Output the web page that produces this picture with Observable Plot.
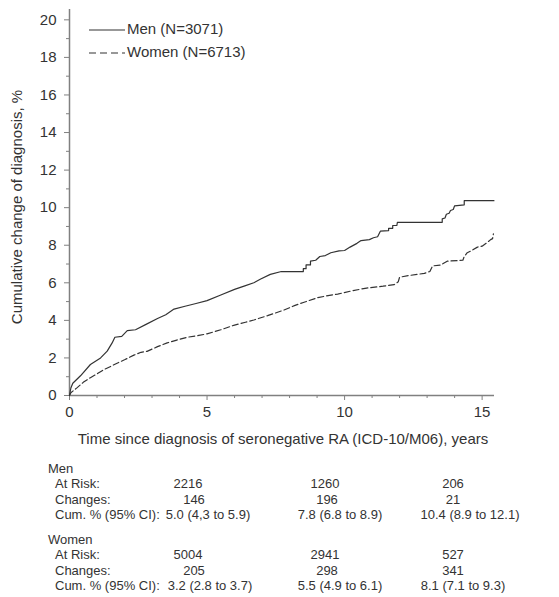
<!DOCTYPE html>
<html>
<head>
<meta charset="utf-8">
<script src="https://cdn.jsdelivr.net/npm/d3@7"></script>
<script src="https://cdn.jsdelivr.net/npm/@observablehq/plot@0.6"></script>
<style>
  html, body { margin: 0; padding: 0; background: #fff; }
  #wrap { position: relative; width: 559px; height: 597px; font-family: Arial, "Liberation Sans", sans-serif; color: #333; }
  #table { position: absolute; left: 0; top: 0; width: 559px; height: 597px; font-size: 13px; pointer-events: none; }
  #table span { position: absolute; white-space: nowrap; transform: translateY(-50%); }
  #table span.c { transform: translate(-50%, -50%); }
</style>
</head>
<body>
<div id="wrap">
  <div id="chart"></div>
  <div id="table"></div>
</div>
<script>
// Men (solid) cumulative curve: time (years), cumulative %
const menTime = [0,0.05,0.12,0.4,0.76,1.13,1.37,1.55,1.65,1.9,2.1,2.4,2.8,3.2,3.5,3.8,4.2,4.6,5.0,5.5,6.0,6.4,6.7,6.95,7.3,7.7,8.5,8.5,8.6,8.6,8.76,8.76,8.95,9.1,9.3,9.5,9.8,10.0,10.2,10.45,10.6,10.9,11.05,11.2,11.3,11.6,11.6,11.75,11.75,11.9,11.92,13.55,13.55,13.65,13.7,13.8,13.85,13.95,14.0,14.35,14.35,15.43];
const menCum  = [0,0.4,0.65,1.05,1.65,2.0,2.36,2.8,3.1,3.15,3.45,3.5,3.8,4.1,4.3,4.6,4.75,4.9,5.05,5.35,5.65,5.85,6.0,6.2,6.45,6.6,6.6,6.75,6.75,6.95,6.95,7.15,7.2,7.4,7.45,7.6,7.7,7.72,7.9,8.1,8.25,8.3,8.4,8.45,8.75,8.78,8.9,8.9,9.05,9.05,9.22,9.22,9.4,9.45,9.65,9.7,9.85,9.9,10.1,10.15,10.37,10.37];
// Women (dashed)
const womenTime = [0,0.05,0.28,0.5,0.76,1.0,1.25,1.5,1.73,2.0,2.34,2.6,2.82,3.2,3.55,3.9,4.28,4.7,5.0,5.5,6.0,6.4,6.7,7.2,7.8,8.2,8.5,9.0,9.4,9.75,10.2,10.8,11.4,11.8,11.95,12.0,12.4,12.9,13.1,13.2,13.5,13.73,14.3,14.35,14.46,14.6,14.83,15.0,15.19,15.31,15.38,15.41];
const womenCum  = [0,0.15,0.42,0.7,0.95,1.15,1.38,1.55,1.72,1.9,2.15,2.3,2.35,2.6,2.8,2.95,3.1,3.2,3.28,3.5,3.75,3.9,4.02,4.25,4.55,4.8,4.95,5.2,5.32,5.4,5.55,5.72,5.82,5.9,6.05,6.3,6.4,6.5,6.6,6.9,6.95,7.15,7.2,7.4,7.6,7.7,7.9,7.95,8.15,8.3,8.35,8.6];

const seriesNames = ["Men (N=3071)", "Women (N=6713)"];
const yMajorTicks = [0,2,4,6,8,10,12,14,16,18,20];
const yMinorTicks = [1,3,5,7,9,11,13,15,17,19];
const xMajorTicks = [0,5,10,15];
const xMinorTicks = [1,2,3,4,6,7,8,9,11,12,13,14];

// Risk table
const groups = ["Men", "Women"];
const rowLabels = ["At Risk:", "Changes:", "Cum. % (95% CI):"];
const menAtRisk = ["2216", "1260", "206"];
const menChanges = ["146", "196", "21"];
const menCumCI = ["5.0 (4,3 to 5.9)", "7.8 (6.8 to 8.9)", "10.4 (8.9 to 12.1)"];
const womenAtRisk = ["5004", "2941", "527"];
const womenChanges = ["205", "298", "341"];
const womenCumCI = ["3.2 (2.8 to 3.7)", "5.5 (4.9 to 6.1)", "8.1 (7.1 to 9.3)"];

const men = menTime.map((t, i) => ({t, v: menCum[i]}));
const women = womenTime.map((t, i) => ({t, v: womenCum[i]}));

const lineColor = "#333";
const axisColor = "#808080";

const plot = Plot.plot({
  width: 559,
  height: 450,
  marginLeft: 69,
  marginRight: 65,
  marginTop: 9,
  marginBottom: 55,
  style: {fontFamily: "Arial, 'Liberation Sans', sans-serif", fontSize: "15px", color: "#333", background: "#fff"},
  x: {domain: [0, 15.45]},
  y: {domain: [0, 20.55]},
  marks: [
    Plot.axisY({ticks: yMajorTicks, tickSize: 5, tickPadding: 8, stroke: axisColor, label: null, fill: "#333"}),
    Plot.axisY({ticks: yMinorTicks, tickSize: 3, tickFormat: () => "", stroke: axisColor, label: null}),
    Plot.axisX({ticks: xMajorTicks, tickSize: 5, tickPadding: 6, stroke: axisColor, label: null, fill: "#333"}),
    Plot.axisX({ticks: xMinorTicks, tickSize: 3, tickFormat: () => "", stroke: axisColor, label: null}),
    Plot.ruleX([0], {stroke: axisColor, strokeWidth: 1.5}),
    Plot.ruleY([0], {stroke: axisColor, strokeWidth: 1.5}),
    Plot.line(women, {x: "t", y: "v", curve: "linear", stroke: lineColor, strokeWidth: 1.2, strokeDasharray: "6,3"}),
    Plot.line(men, {x: "t", y: "v", curve: "linear", stroke: lineColor, strokeWidth: 1.2})
  ]
});
document.getElementById("chart").appendChild(plot);

// Axis titles and legend
const svg = d3.select(plot);
svg.append("text")
  .attr("transform", "translate(18,207) rotate(-90)")
  .attr("text-anchor", "middle").attr("dominant-baseline", "middle")
  .attr("fill", "#333").style("font-size", "15px")
  .text("Cumulative change of diagnosis, %");
svg.append("text")
  .attr("x", 283).attr("y", 440)
  .attr("text-anchor", "middle").attr("dominant-baseline", "middle")
  .attr("fill", "#333").style("font-size", "15px")
  .text("Time since diagnosis of seronegative RA (ICD-10/M06), years");

const legend = svg.append("g");
seriesNames.forEach((name, i) => {
  const y = 30 + i * 23;
  legend.append("line").attr("x1", 89).attr("x2", 125).attr("y1", y).attr("y2", y)
    .attr("stroke", lineColor).attr("stroke-width", 1.1)
    .attr("stroke-dasharray", i === 1 ? "7,4" : null);
  legend.append("text").attr("x", 127).attr("y", y)
    .attr("text-anchor", "start").attr("dominant-baseline", "middle")
    .attr("fill", "#333").style("font-size", "15px").text(name);
});

// Risk table (HTML text)
const table = document.getElementById("table");
function addSpan(text, x, y, centered) {
  const s = document.createElement("span");
  s.textContent = text;
  s.style.left = x + "px";
  s.style.top = y + "px";
  if (centered) s.className = "c";
  table.appendChild(s);
}
const groupData = [
  {atRisk: menAtRisk, changes: menChanges, cum: menCumCI, cumX: [208, 340, 470]},
  {atRisk: womenAtRisk, changes: womenChanges, cum: womenCumCI, cumX: [210, 340, 463]}
];
const riskX = [188, 325, 453];
const changeX = [194, 327, 453];
groups.forEach((g, gi) => {
  const y0 = 468 + gi * 71;
  addSpan(g, 48, y0, false);
  rowLabels.forEach((lab, ri) => addSpan(lab, 55, y0 + 15.3 * (ri + 1), false));
  const d = groupData[gi];
  for (let c = 0; c < 3; c++) {
    addSpan(d.atRisk[c], riskX[c], y0 + 15.3, true);
    addSpan(d.changes[c], changeX[c], y0 + 30.6, true);
    addSpan(d.cum[c], d.cumX[c], y0 + 45.9, true);
  }
});
</script>
</body>
</html>
